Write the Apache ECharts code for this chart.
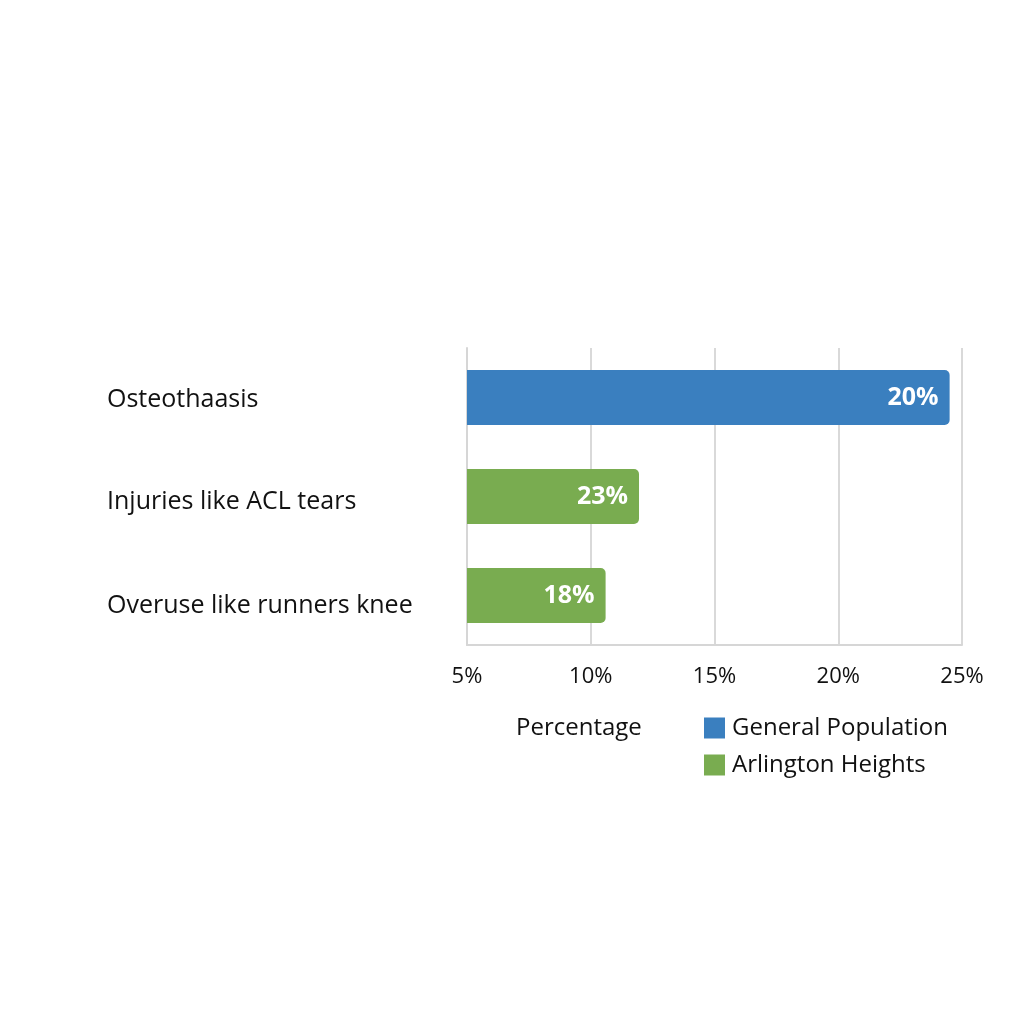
<!DOCTYPE html>
<html>
<head>
<meta charset="utf-8">
<script src="https://cdn.jsdelivr.net/npm/echarts@6/dist/echarts.min.js"></script>
<style>html,body{margin:0;padding:0;background:#fff}#c{width:1024px;height:1024px}</style>
</head>
<body>
<div id="c"></div>
<script>
const categories = ['Osteothaasis', 'Injuries like ACL tears', 'Overuse like runners knee'];
const generalPopulation = [24.5, '-', '-'];
const arlingtonHeights = ['-', 11.95, 10.6];
const barLabels = ['20%', '23%', '18%'];
const xTicks = [5, 10, 15, 20, 25];

const font = "'Open Sans', 'Noto Sans', sans-serif";
const chart = echarts.init(document.getElementById('c'));
const labelCfg = {
  show: true, position: 'insideRight', distance: 11,
  color: '#fff', fontWeight: 'bold', fontSize: 25, fontFamily: font,
  formatter: p => barLabels[p.dataIndex]
};
const catStyles = ['c0', 'c1', 'c2'];
const richBase = { fontSize: 25, color: '#111', fontFamily: font };
chart.setOption({
  animation: false,
  title: {
    text: 'Percentage', left: 511, top: 711,
    textStyle: { fontSize: 24, fontWeight: 'normal', color: '#111', fontFamily: font }
  },
  legend: {
    orient: 'vertical', left: 699, top: 711, itemWidth: 21, itemHeight: 21, itemGap: 13,
    icon: 'rect',
    textStyle: { fontSize: 24, color: '#111', fontFamily: font, padding: [0, 0, 0, 2] },
    data: ['General Population', 'Arlington Heights']
  },
  grid: { left: 467, right: 62, top: 348, bottom: 379, containLabel: false },
  xAxis: {
    type: 'value', min: xTicks[0], max: xTicks[xTicks.length - 1], interval: 5,
    axisLine: { show: true, lineStyle: { color: '#d6d6d6', width: 2 } },
    axisTick: { show: false },
    splitLine: { show: true, lineStyle: { color: '#d9d9d9', width: 2 } },
    axisLabel: { formatter: v => v + '%', fontSize: 22, color: '#111', fontFamily: font, margin: 21 }
  },
  yAxis: {
    type: 'category', data: categories, inverse: true,
    axisLine: { show: true, lineStyle: { color: '#d6d6d6', width: 2 } },
    axisTick: { show: false },
    axisLabel: {
      align: 'left', margin: 360, fontSize: 25, color: '#111', fontFamily: font,
      formatter: (v, i) => '{' + catStyles[i] + '|' + v + '}',
      rich: {
        c0: Object.assign({ padding: [4, 0, 0, 0] }, richBase),
        c1: Object.assign({ padding: [10, 0, 0, 0] }, richBase),
        c2: Object.assign({ padding: [20, 0, 0, 0] }, richBase)
      }
    }
  },
  series: [
    {
      name: 'General Population', type: 'bar', data: generalPopulation,
      barWidth: 55, barGap: '-100%',
      itemStyle: { color: '#3a7fbf', borderRadius: [0, 5, 5, 0] },
      label: labelCfg
    },
    {
      name: 'Arlington Heights', type: 'bar', data: arlingtonHeights,
      barWidth: 55, barGap: '-100%',
      itemStyle: { color: '#79ac50', borderRadius: [0, 5, 5, 0] },
      label: labelCfg
    }
  ]
});
</script>
</body>
</html>
